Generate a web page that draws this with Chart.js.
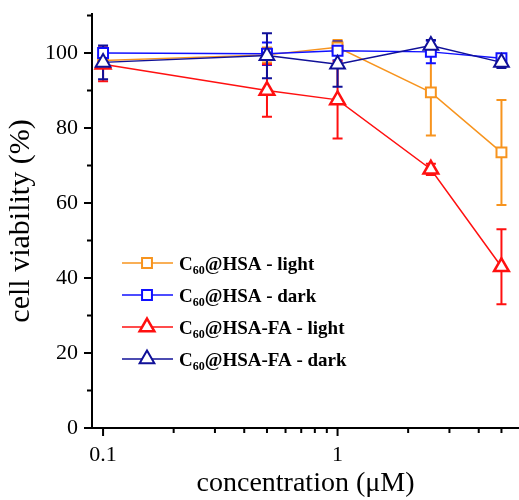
<!DOCTYPE html>
<html>
<head>
<meta charset="utf-8">
<script src="https://cdn.jsdelivr.net/npm/chart.js@4.4.0/dist/chart.umd.min.js"></script>
<style>
  html, body { margin: 0; padding: 0; background: #fff; }
  #wrap { width: 519px; height: 500px; }
</style>
</head>
<body>
<div id="wrap"><canvas id="viabilityChart" width="519" height="500"></canvas></div>
<script>
// concentration (uM) and viability (%)
const concentrations = [0.1, 0.5, 1, 2.5, 5];

const hsaLight = [98, 99.5, 101.5, 89.5, 73.5];
const hsaLightErr = [1.5, 2, 2, 11.5, 14];

const hsaDark = [100, 99.8, 100.6, 100.3, 98.6];
const hsaDarkErr = [1.5, 3, 2.5, 3, 1];

const faLight = [97, 90, 87.5, 69, 43];
const faLightErr = [4.5, 7, 10.3, 1.5, 10];

const faDark = [97.5, 99.3, 97, 102, 97.5];
const faDarkErr = [4.5, 6, 6, 1.5, 1.5];

const xMajorTicks = [0.1, 1];
const xMinorTicks = [0.2, 0.3, 0.4, 0.5, 0.6, 0.7, 0.8, 0.9, 2, 3, 4, 5];
const yMajorTicks = [0, 20, 40, 60, 80, 100];
const yMinorTicks = [10, 30, 50, 70, 90, 110];

const legendLabels = [
    { pre: 'C', sub: '60', post: '@HSA - light' },
    { pre: 'C', sub: '60', post: '@HSA - dark' },
    { pre: 'C', sub: '60', post: '@HSA-FA - light' },
    { pre: 'C', sub: '60', post: '@HSA-FA - dark' }
];

const SERIF = '"Liberation Serif", "Times New Roman", serif';
const ORANGE = '#F7941E';
const BLUE = '#1010FF';
const RED = '#FF1010';
const NAVY = '#101098';

function toPoints(vals) {
    return concentrations.map((c, i) => ({ x: c, y: vals[i] }));
}

// vertical error bars with caps, drawn under the markers
const errorBars = {
    id: 'errorBars',
    beforeDatasetsDraw(chart) {
        const { ctx, scales: { x, y } } = chart;
        chart.data.datasets.forEach(ds => {
            ctx.save();
            ctx.strokeStyle = ds.borderColor;
            ctx.lineWidth = ds.errorWidth;
            ds.data.forEach((p, j) => {
                const px = x.getPixelForValue(p.x);
                const top = y.getPixelForValue(p.y + ds.errors[j]);
                const bot = y.getPixelForValue(p.y - ds.errors[j]);
                ctx.beginPath();
                ctx.moveTo(px, top); ctx.lineTo(px, bot);
                ctx.moveTo(px - 5, top); ctx.lineTo(px + 5, top);
                ctx.moveTo(px - 5, bot); ctx.lineTo(px + 5, bot);
                ctx.stroke();
            });
            ctx.restore();
        });
    }
};

// outward major / minor tick marks on both axes
const axisTicks = {
    id: 'axisTicks',
    afterDraw(chart) {
        const { ctx, chartArea, scales: { x, y } } = chart;
        ctx.save();
        ctx.strokeStyle = '#000';
        ctx.lineWidth = 2;
        ctx.beginPath();
        xMajorTicks.concat(xMinorTicks).forEach(v => {
            const px = x.getPixelForValue(v);
            const len = xMajorTicks.includes(v) ? 8 : 5;
            ctx.moveTo(px, chartArea.bottom); ctx.lineTo(px, chartArea.bottom + len);
        });
        yMajorTicks.concat(yMinorTicks).forEach(v => {
            const py = y.getPixelForValue(v);
            const len = yMajorTicks.includes(v) ? 8 : 5;
            ctx.moveTo(chartArea.left, py); ctx.lineTo(chartArea.left - len, py);
        });
        ctx.stroke();
        ctx.restore();
    }
};

// legend inside the plot, with subscripted "60"
const innerLegend = {
    id: 'innerLegend',
    afterDraw(chart) {
        const { ctx } = chart;
        const rows = [263, 295, 327, 359];
        ctx.save();
        chart.data.datasets.forEach((ds, r) => {
            const cy = rows[r];
            ctx.strokeStyle = ds.borderColor;
            ctx.lineWidth = 1.5;
            ctx.beginPath();
            ctx.moveTo(122, cy); ctx.lineTo(173, cy);
            ctx.stroke();
            ctx.fillStyle = '#fff';
            ctx.lineWidth = ds.pointBorderWidth;
            Chart.helpers.drawPoint(ctx, {
                pointStyle: ds.pointStyle,
                rotation: 0,
                radius: ds.pointRadius,
                borderWidth: ds.pointBorderWidth
            }, 147, cy);

            const lab = legendLabels[r];
            let tx = 179;
            const base = cy + 7;
            ctx.fillStyle = '#000';
            ctx.textBaseline = 'alphabetic';
            ctx.font = 'bold 19px ' + SERIF;
            ctx.fillText(lab.pre, tx, base);
            tx += ctx.measureText(lab.pre).width;
            ctx.font = 'bold 12px ' + SERIF;
            ctx.fillText(lab.sub, tx, base + 4);
            tx += ctx.measureText(lab.sub).width;
            ctx.font = 'bold 19px ' + SERIF;
            ctx.fillText(lab.post, tx, base);
        });
        ctx.restore();
    }
};

const ctx = document.getElementById('viabilityChart').getContext('2d');
new Chart(ctx, {
    type: 'line',
    data: {
        datasets: [
            {
                label: 'C60@HSA - light',
                data: toPoints(hsaLight),
                errors: hsaLightErr,
                errorWidth: 2,
                borderColor: ORANGE,
                backgroundColor: '#fff',
                borderWidth: 1.5,
                pointStyle: 'rect',
                pointRadius: 7,
                pointBorderWidth: 2,
                order: 4
            },
            {
                label: 'C60@HSA - dark',
                data: toPoints(hsaDark),
                errors: hsaDarkErr,
                errorWidth: 2,
                borderColor: BLUE,
                backgroundColor: '#fff',
                borderWidth: 1.5,
                pointStyle: 'rect',
                pointRadius: 7,
                pointBorderWidth: 2,
                order: 2
            },
            {
                label: 'C60@HSA-FA - light',
                data: toPoints(faLight),
                errors: faLightErr,
                errorWidth: 2,
                borderColor: RED,
                backgroundColor: '#fff',
                borderWidth: 1.5,
                pointStyle: 'triangle',
                pointRadius: 8.5,
                pointBorderWidth: 2.5,
                order: 3
            },
            {
                label: 'C60@HSA-FA - dark',
                data: toPoints(faDark),
                errors: faDarkErr,
                errorWidth: 2,
                borderColor: NAVY,
                backgroundColor: '#fff',
                borderWidth: 1.5,
                pointStyle: 'triangle',
                pointRadius: 8.5,
                pointBorderWidth: 2,
                order: 1
            }
        ]
    },
    options: {
        responsive: false,
        animation: false,
        layout: { autoPadding: false, padding: { top: 14, right: 0, left: 0, bottom: 0 } },
        elements: { line: { tension: 0 } },
        scales: {
            x: {
                type: 'logarithmic',
                min: 0.0897,
                max: 5.94,
                afterFit(scale) {
                    scale.height = 72;
                    scale.paddingLeft = 0;
                    scale.paddingRight = 0;
                },
                afterBuildTicks(scale) {
                    scale.ticks = xMajorTicks.map(v => ({ value: v }));
                },
                grid: { display: false, drawTicks: false },
                border: { display: true, color: '#000', width: 2 },
                ticks: {
                    autoSkip: false,
                    maxRotation: 0,
                    padding: 14,
                    color: '#000',
                    font: { family: SERIF, size: 22 },
                    callback: v => String(v)
                },
                title: {
                    display: true,
                    text: 'concentration (μM)',
                    color: '#000',
                    font: { family: SERIF, size: 28 },
                    padding: { top: 0, bottom: 0 }
                }
            },
            y: {
                min: 0,
                max: 110.4,
                afterFit(scale) {
                    scale.width = 92;
                    scale.paddingTop = 0;
                    scale.paddingBottom = 0;
                },
                afterBuildTicks(scale) {
                    scale.ticks = yMajorTicks.map(v => ({ value: v }));
                },
                grid: { display: false, drawTicks: false },
                border: { display: true, color: '#000', width: 2 },
                ticks: {
                    padding: 14,
                    color: '#000',
                    font: { family: SERIF, size: 22 }
                },
                title: {
                    display: true,
                    text: 'cell viability (%)',
                    color: '#000',
                    font: { family: SERIF, size: 30 },
                    padding: { top: 3, bottom: 0 }
                }
            }
        },
        plugins: {
            legend: { display: false },
            tooltip: { enabled: false }
        }
    },
    plugins: [errorBars, axisTicks, innerLegend]
});
</script>
</body>
</html>
